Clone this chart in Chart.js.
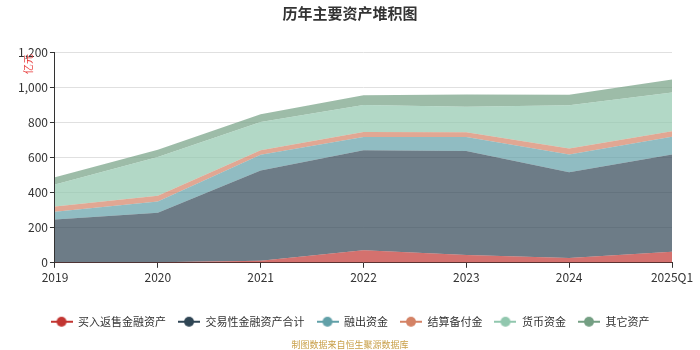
<!DOCTYPE html>
<html>
<head>
<meta charset="utf-8">
<script src="https://cdn.jsdelivr.net/npm/chart.js@4"></script>
<style>
  html, body { margin: 0; padding: 0; background: #fff; }
  #wrap { width: 700px; height: 350px; }
</style>
</head>
<body>
<div id="wrap"><canvas id="chart"></canvas></div>
<script>
// --- Data (亿元) ---
const years = ['2019', '2020', '2021', '2022', '2023', '2024', '2025Q1'];
const buyBack = [3, 3, 11, 72, 44, 27, 63];          // 买入返售金融资产
const trading = [243, 282, 515, 568, 592, 489, 554]; // 交易性金融资产合计
const lending = [44, 64, 89, 76, 80, 101, 101];      // 融出资金
const settlement = [30, 32, 25, 29, 27, 33, 31];     // 结算备付金
const cash = [125, 221, 162, 154, 145, 247, 221];    // 货币资金
const other = [42, 42, 44, 55, 70, 59, 74];          // 其它资产
const yTicks = [0, 200, 400, 600, 800, 1000, 1200];

const FONT = '"Noto Sans CJK SC", "Noto Sans", sans-serif';

// legend marker: short line with a dot
function marker(color) {
  const c = document.createElement('canvas');
  c.width = 22; c.height = 12;
  const g = c.getContext('2d');
  g.strokeStyle = color;
  g.lineWidth = 2;
  g.beginPath(); g.moveTo(0, 6); g.lineTo(22, 6); g.stroke();
  g.fillStyle = color;
  g.beginPath(); g.arc(11, 6, 5, 0, Math.PI * 2); g.fill();
  return c;
}

function series(label, data, rgb, idx) {
  return {
    label: label,
    data: data,
    backgroundColor: `rgba(${rgb},0.7)`,
    borderColor: `rgb(${rgb})`,
    borderWidth: 0,
    pointRadius: 0,
    pointHoverRadius: 0,
    fill: idx === 0 ? 'origin' : '-1',
    tension: 0,
    pointStyle: marker(`rgb(${rgb})`)
  };
}

// y-axis unit label
const unitLabel = {
  id: 'unitLabel',
  afterDraw(chart) {
    const ctx = chart.ctx;
    ctx.save();
    ctx.translate(28, 64);
    ctx.rotate(-Math.PI / 2);
    ctx.fillStyle = '#e83a3a';
    ctx.font = '10px ' + FONT;
    ctx.textAlign = 'center';
    ctx.textBaseline = 'middle';
    ctx.fillText('亿元', 0, 0);
    ctx.restore();
  }
};

new Chart(document.getElementById('chart'), {
  type: 'line',
  data: {
    labels: years,
    datasets: [
      series('买入返售金融资产', buyBack, '194,53,49', 0),
      series('交易性金融资产合计', trading, '47,69,84', 1),
      series('融出资金', lending, '97,160,168', 2),
      series('结算备付金', settlement, '212,130,101', 3),
      series('货币资金', cash, '145,199,174', 4),
      series('其它资产', other, '116,159,131', 5)
    ]
  },
  options: {
    responsive: true,
    maintainAspectRatio: false,
    animation: false,
    layout: { padding: { left: 16, right: 16, top: 4, bottom: 0 } },
    plugins: {
      title: {
        display: true,
        text: '历年主要资产堆积图',
        color: '#333',
        font: { family: FONT, size: 15, weight: 'bold' },
        padding: { top: 0, bottom: 30 }
      },
      subtitle: {
        display: true,
        position: 'bottom',
        text: '制图数据来自恒生聚源数据库',
        color: '#c9a04a',
        font: { family: FONT, size: 9 },
        padding: { top: 2, bottom: 0 }
      },
      legend: {
        position: 'bottom',
        labels: {
          usePointStyle: true,
          pointStyleWidth: 22,
          color: '#333',
          font: { family: FONT, size: 11 },
          padding: 12
        }
      },
      tooltip: { enabled: false }
    },
    scales: {
      x: {
        offset: false,
        afterFit(axis) {
          axis.height += 18;
          axis.paddingRight = 28;
        },
        grid: { drawOnChartArea: false, drawTicks: true, tickLength: 5, tickColor: '#333' },
        border: { color: '#333' },
        ticks: { color: '#333', font: { family: FONT, size: 12 }, padding: 2, maxRotation: 0 }
      },
      y: {
        stacked: true,
        min: 0,
        max: 1200,
        afterBuildTicks(axis) { axis.ticks = yTicks.map(v => ({ value: v })); },
        grid: { color: '#e0e0e0', tickLength: 5, tickColor: '#333' },
        border: { color: '#333' },
        ticks: {
          color: '#333',
          font: { family: FONT, size: 12 },
          padding: 2,
          callback: v => v.toLocaleString('en-US')
        }
      }
    }
  },
  plugins: [unitLabel]
});
</script>
</body>
</html>
